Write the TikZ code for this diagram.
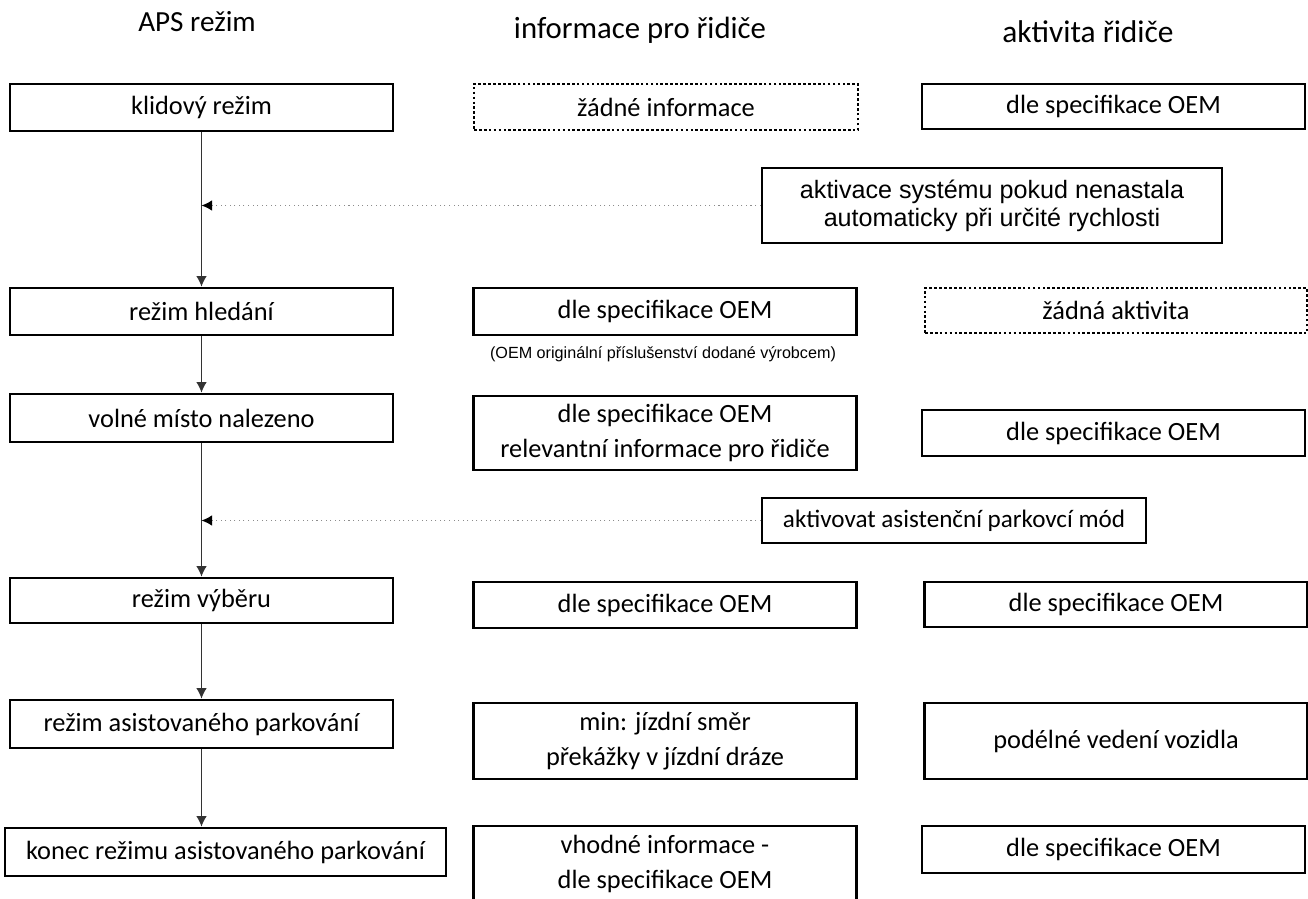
\documentclass[tikz,border=0pt]{standalone}
\usepackage{fontspec}
\setmainfont{Carlito}
\newfontfamily\notefont{Liberation Sans}
\usepackage{tikz}
\usetikzlibrary{positioning}
\usetikzlibrary{arrows.meta}

\begin{document}
\begin{tikzpicture}[x=0.02cm,y=-0.02cm,
		font=\fontsize{15}{19.5}\selectfont,
		box/.style={draw,line width=1.6pt,inner sep=2pt,align=center,minimum width=7.66cm,minimum height=0.92cm},
		dotbox/.style={box,dash pattern=on 1.5pt off 1.3pt},
		head/.style={font=\fontsize{#1}{20}\selectfont},
		flow/.style={-{Latex[length=6pt,width=6pt]},line width=0.6pt,black!80},
		hint/.style={-{Latex[length=6pt,width=6pt,color=black]},dotted,line width=0.6pt,black!45}]
		\useasboundingbox (0,0) rectangle (1308,899);
		% column heads
		\node [head=16.6] (hmode) at (197,22) {APS režim};
		\node [head=17.5] (hinfo) at (640,30) {informace pro řidiče};
		\node [head=17.9] (hact) at (1088,32) {aktivita řidiče};
		% APS modes
		\node [box,minimum height=0.94cm] (klid) at (201.5,107.5) {klidový režim};
		\node [box,minimum height=0.94cm] (hledani) at (201.5,311.5) {režim hledání};
		\node [box,minimum height=0.96cm] (volne) at (201.5,418) {volné místo nalezeno};
		\node [box,minimum height=0.9cm] (vyber) at (201.5,600.5) {režim výběru};
		\node [box,minimum height=0.96cm] (asist) at (201.5,724) {režim asistovaného parkování};
		\node [box,minimum width=8.82cm,minimum height=0.96cm] (konec) at (225.5,852) {konec režimu asistovaného parkování};
		% information
		\node [dotbox,minimum width=7.68cm] (info1) at (666,107) {žádné informace};
		\node [box,minimum height=0.94cm] (info2) at (665,311.5) {dle specifikace OEM};
		\node [font=\notefont\fontsize{9.2}{11}\selectfont] (note) at (663,354) {(OEM originální příslušenství dodané výrobcem)};
		\node [box,minimum height=1.48cm] (info3) at (665,433) {dle specifikace OEM\\relevantní informace pro řidiče};
		\node [box] (info4) at (665,605) {dle specifikace OEM};
		\node [box,minimum height=1.52cm] (info5) at (665,741) {min: jízdní směr\\překážky v jízdní dráze};
		\node [box,minimum height=1.52cm] (info6) at (665,864) {vhodné informace -\\dle specifikace OEM};
		% driver activity
		\node [box,minimum height=0.9cm] (akt1) at (1113.5,106.5) {dle specifikace OEM};
		\node [box,minimum width=9.2cm,minimum height=1.5cm,font=\notefont\fontsize{14.3}{16}\selectfont] (aktivace) at (992,205.5) {aktivace systému pokud nenastala\\automaticky při určité rychlosti};
		\node [dotbox,minimum width=7.64cm,minimum height=0.9cm] (akt2) at (1116,310.5) {žádná aktivita};
		\node [box] (akt3) at (1113.5,433) {dle specifikace OEM};
		\node [box,minimum width=7.68cm,minimum height=0.9cm,font=\fontsize{14.3}{18}\selectfont] (aktmod) at (954,520.5) {aktivovat asistenční parkovcí mód};
		\node [box,minimum height=0.9cm] (akt4) at (1116,604.5) {dle specifikace OEM};
		\node [box,minimum height=1.52cm] (akt5) at (1116,741) {podélné vedení vozidla};
		\node [box,minimum height=0.94cm] (akt6) at (1113.5,849.5) {dle specifikace OEM};
		% arrows
		\foreach \a/\b in {klid/hledani,hledani/volne,volne/vyber,vyber/asist}
			\draw [flow] (\a) -- (\b);
		\draw [flow] (asist.south) -- (asist.south |- konec.north);
		\draw [hint] (aktivace.west) -- (klid.south |- aktivace.west);
		\draw [hint] (aktmod.west) -- (volne.south |- aktmod.west);
	\end{tikzpicture}
\end{document}
